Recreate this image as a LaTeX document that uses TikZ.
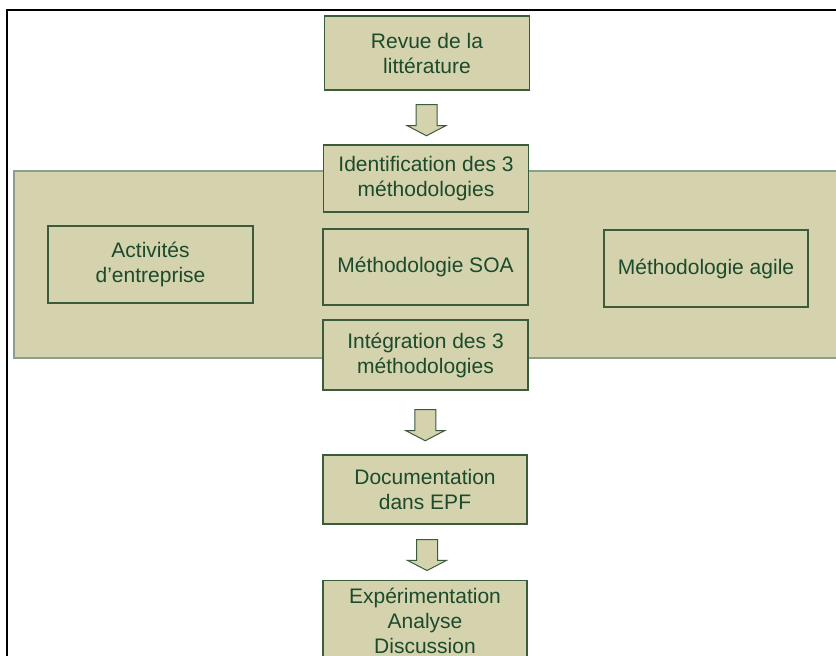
\documentclass[tikz,border=0pt]{standalone}
\usepackage{fontspec}
\setmainfont{Liberation Sans}
\usetikzlibrary{shapes.arrows,calc}
\definecolor{boxfill}{RGB}{212,211,173}
\definecolor{boxline}{RGB}{58,92,60}
\definecolor{bandline}{RGB}{138,160,140}
\definecolor{boxtext}{RGB}{28,74,44}
\tikzset{
  stepbox/.style={draw=boxline,fill=boxfill,text=boxtext,line width=1.2pt,
    minimum width=205pt,align=center,inner sep=0pt,
    font=\fontsize{21}{25}\selectfont},
  downarrow/.style={single arrow,shape border rotate=270,draw=boxline,fill=boxfill,
    line width=1pt,minimum height=31pt,minimum width=38pt,inner sep=10pt,
    single arrow head extend=9pt,single arrow tip angle=125}
}
\begin{document}
\begin{tikzpicture}[x=1pt,y=-1pt]
\useasboundingbox (0,0) rectangle (836,656);
\fill[white] (0,0) rectangle (836,656);
% outside frame
\draw[line width=2.5pt] (7,656) -- (7,10) -- (836,10);
% band
\draw[draw=bandline,fill=boxfill,line width=1.5pt] (14,171) rectangle (850,358);
% boxes
\node[stepbox,minimum height=74pt] (revue) at (427,53) {Revue de la\\littérature};
\node[stepbox,minimum height=67pt] (ident) at (426,178.5) {Identification des 3\\méthodologies};
\node[stepbox,minimum height=77pt] (activ) at (150.5,264.5) {Activités\\d’entreprise};
\node[stepbox,minimum height=76pt] (soa) at (425.5,267) {Méthodologie SOA};
\node[stepbox,minimum height=77pt,minimum width=204pt] (agile) at (706,268.5) {Méthodologie agile};
\node[stepbox,minimum height=70pt] (integ) at (425.5,355) {Intégration des 3\\méthodologies};
\node[stepbox,minimum height=69pt,minimum width=204pt] (doc) at (425,489.5) {Documentation\\dans EPF};
\node[stepbox,minimum height=80pt,minimum width=204pt,anchor=north] (exper) at (425,580) {Expérimentation\\Analyse\\Discussion};
% arrows
\node[downarrow] (a1) at ($(revue.south)!0.5!(ident.north)$) {};
\node[downarrow] (a2) at ($(integ.south)!0.5!(doc.north)$) {};
\node[downarrow] (a3) at ($(doc.south)!0.5!(exper.north)+(2,0)$) {};
\end{tikzpicture}
\end{document}
